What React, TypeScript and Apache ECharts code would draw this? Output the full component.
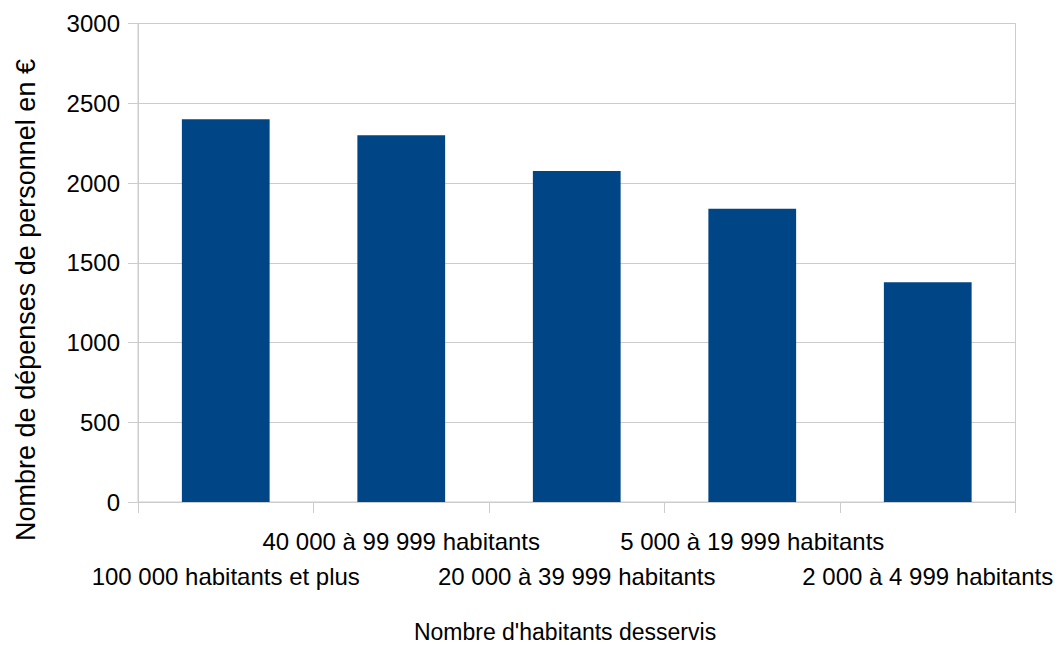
import React, { useEffect, useRef } from "react";
import * as echarts from "echarts";

const categories = [
  "100 000 habitants et plus",
  "40 000 à 99 999 habitants",
  "20 000 à 39 999 habitants",
  "5 000 à 19 999 habitants",
  "2 000 à 4 999 habitants",
];
const values = [2400, 2300, 2075, 1838, 1377];
const yTitle = "Nombre de dépenses de personnel en €";
const xTitle = "Nombre d'habitants desservis";

const FONT = "'Liberation Sans', Arial, sans-serif";

export default function App() {
  const ref = useRef<HTMLDivElement>(null);
  useEffect(() => {
    if (!ref.current) return;
    const chart = echarts.init(ref.current, undefined, { renderer: "svg" });
    chart.setOption({
      animation: false,
      backgroundColor: "#ffffff",
      grid: {
        left: 138,
        right: 42.5,
        top: 23.5,
        bottom: 143,
        show: true,
        borderColor: "#cccccc",
        borderWidth: 1,
      },
      xAxis: {
        type: "category",
        data: categories,
        axisLine: { show: true, lineStyle: { color: "#cccccc", width: 1 } },
        axisTick: { show: true, length: 11, lineStyle: { color: "#cccccc" } },
        axisLabel: {
          interval: 0,
          hideOverlap: false,
          margin: 22,
          color: "#000000",
          fontFamily: FONT,
          fontSize: 24,
          lineHeight: 35,
          formatter: (v: string, i: number) => (i % 2 === 0 ? "\n" + v : v),
        },
        splitLine: { show: false },
      },
      yAxis: {
        type: "value",
        min: 0,
        max: 3000,
        interval: 500,
        axisLine: { show: true, lineStyle: { color: "#cccccc" } },
        axisTick: { show: true, length: 10, lineStyle: { color: "#cccccc" } },
        axisLabel: {
          margin: 18,
          color: "#000000",
          fontFamily: FONT,
          fontSize: 24,
          formatter: (v: number) => String(v),
        },
        splitLine: { show: true, lineStyle: { color: "#cccccc", width: 1 } },
      },
      graphic: [
        {
          type: "text",
          x: 26,
          y: 300,
          rotation: Math.PI / 2,
          style: {
            text: yTitle,
            fontFamily: FONT,
            fontSize: 27,
            fill: "#000000",
            align: "center",
            verticalAlign: "middle",
          },
        },
        {
          type: "text",
          x: 565,
          y: 632,
          style: {
            text: xTitle,
            fontFamily: FONT,
            fontSize: 23,
            fill: "#000000",
            align: "center",
            verticalAlign: "middle",
          },
        },
      ],
      series: [
        {
          type: "bar",
          data: values,
          barWidth: "50%",
          itemStyle: { color: "#004586" },
        },
      ],
    });
    return () => chart.dispose();
  }, []);
  return (
    <div
      ref={ref}
      style={{ position: "absolute", left: 0, top: 0, width: 1058, height: 645 }}
    />
  );
}
